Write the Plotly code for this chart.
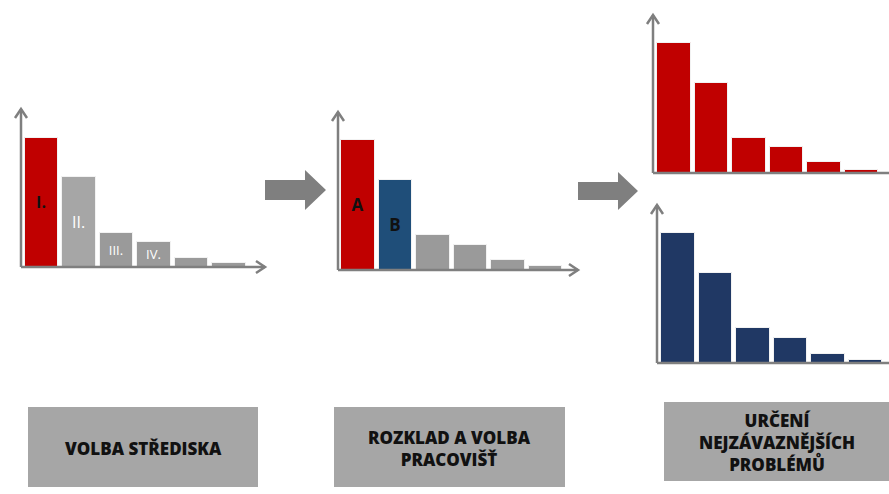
import plotly.graph_objects as go

W, H = 889, 494

# Pareto data for each step (relative magnitudes)
center_vals = [129, 90, 34, 25, 9, 4]
workplace_vals = [130, 90, 35, 25, 10, 4]
problem_vals_a = [130, 90, 35, 26, 11, 3]
problem_vals_b = [130, 90, 35, 25, 9, 3]

center_labels = ["I.", "II.", "III.", "IV.", "", ""]
workplace_labels = ["A", "B", "", "", "", ""]
step_titles = ["VOLBA STŘEDISKA",
               "ROZKLAD A VOLBA<br>PRACOVIŠŤ",
               "URČENÍ<br>NEJZÁVAZNĚJŠÍCH<br>PROBLÉMŮ"]

RED = "#C00000"
GREY_LIGHT = "#A6A6A6"
GREY = "#9A9A9A"
BLUE = "#1F4E79"
NAVY = "#203864"
AXIS = "#7F7F7F"
INK = "#111111"

STEP = 37.5   # px between bar centres
Y_SPAN = 158  # px height of each axis

def px_x(p):
    return p / W

def px_y(p):
    return 1 - p / H

fig = go.Figure()

# panel: axis x px, baseline y px, axis end px, first bar offset px
panels = [
    dict(vals=center_vals, colors=[RED, GREY_LIGHT, GREY, GREY, GREY, GREY],
         labels=center_labels, tcolors=[INK, "white", "white", "white", "white", "white"],
         tsizes=[16, 16, 13, 13, 13, 13], tweights=[700, 400, 400, 400, 400, 400],
         ax0=21, base=267, xend=265, off=20.5),
    dict(vals=workplace_vals, colors=[RED, BLUE, GREY, GREY, GREY, GREY],
         labels=workplace_labels, tcolors=[INK] * 6,
         tsizes=[17] * 6, tweights=[700] * 6, ax0=338, base=270, xend=578, off=20),
    dict(vals=problem_vals_a, colors=[RED] * 6, labels=[""] * 6, tcolors=[INK] * 6,
         tsizes=[14] * 6, tweights=[700] * 6, ax0=653, base=173, xend=889, off=21),
    dict(vals=problem_vals_b, colors=[NAVY] * 6, labels=[""] * 6, tcolors=[INK] * 6,
         tsizes=[14] * 6, tweights=[700] * 6, ax0=657, base=363, xend=889, off=21),
]

shapes = []
layout_axes = {}
for i, p in enumerate(panels, start=1):
    xa = "x" if i == 1 else f"x{i}"
    ya = "y" if i == 1 else f"y{i}"
    idx = list(range(len(p["vals"])))
    fig.add_trace(go.Bar(
        x=idx, y=p["vals"], xaxis=xa, yaxis=ya, width=0.9,
        marker=dict(color=p["colors"], line=dict(color="#F2F2F2", width=1)),
        text=p["labels"], textposition="inside", insidetextanchor="middle",
        textangle=0, constraintext="none",
        insidetextfont=dict(color=p["tcolors"], size=p["tsizes"],
                            family="Open Sans", weight=p["tweights"]),
        hoverinfo="skip", showlegend=False,
    ))
    r0 = -p["off"] / STEP
    r1 = (p["xend"] - p["ax0"] - p["off"]) / STEP
    key_x = "xaxis" if i == 1 else f"xaxis{i}"
    key_y = "yaxis" if i == 1 else f"yaxis{i}"
    layout_axes[key_x] = dict(domain=[px_x(p["ax0"]), px_x(p["xend"])], range=[r0, r1],
                              visible=False, anchor=ya)
    layout_axes[key_y] = dict(domain=[px_y(p["base"]), px_y(p["base"] - Y_SPAN)],
                              range=[0, Y_SPAN], visible=False, anchor=xa)
    xd, yd = f"{xa} domain", f"{ya} domain"
    line = dict(color=AXIS, width=2.5)
    # axis lines
    shapes.append(dict(type="line", xref=xd, yref=yd, x0=0, x1=0, y0=0, y1=1, line=line))
    shapes.append(dict(type="line", xref=xd, yref=yd, x0=0, x1=1, y0=0, y1=0, line=line))
    # arrow chevrons
    shapes.append(dict(type="path", xref=xd, yref=yd, xsizemode="pixel", ysizemode="pixel",
                       xanchor=0, yanchor=1, path="M -6,-9 L 0,0 L 6,-9", line=line))
    if p["xend"] < W:
        shapes.append(dict(type="path", xref=xd, yref=yd, xsizemode="pixel", ysizemode="pixel",
                           xanchor=1, yanchor=0, path="M -9,6 L 0,0 L -9,-6", line=line))

# block arrows between steps
def block_arrow(x0, xh, xt, yc, half_body, half_head):
    pts = [(x0, yc - half_body), (xh, yc - half_body), (xh, yc - half_head), (xt, yc),
           (xh, yc + half_head), (xh, yc + half_body), (x0, yc + half_body)]
    path = "M " + " L ".join(f"{px_x(a):.5f},{px_y(b):.5f}" for a, b in pts) + " Z"
    return dict(type="path", xref="paper", yref="paper", path=path,
                fillcolor=AXIS, line=dict(width=0))

shapes.append(block_arrow(265, 305, 326, 190, 10, 20))
shapes.append(block_arrow(578, 618, 638, 191, 9, 19))

# step boxes with their titles
boxes = [(28, 258, 407, 487), (334, 565, 407, 487), (664, 889, 402, 481)]
annotations = []
for (x0, x1, y0, y1), title in zip(boxes, step_titles):
    shapes.append(dict(type="rect", xref="paper", yref="paper",
                       x0=px_x(x0), x1=px_x(x1), y0=px_y(y1), y1=px_y(y0),
                       fillcolor=GREY_LIGHT, line=dict(width=0), layer="below"))
    annotations.append(dict(xref="paper", yref="paper", x=px_x((x0 + x1) / 2),
                            y=px_y((y0 + y1) / 2 + 1), text=title, showarrow=False,
                            xanchor="center", yanchor="middle", align="center",
                            font=dict(family="Open Sans", size=17, color=INK, weight=800)))

fig.update_layout(
    width=W, height=H, margin=dict(l=0, r=0, t=0, b=0),
    paper_bgcolor="white", plot_bgcolor="rgba(0,0,0,0)",
    shapes=shapes, annotations=annotations, bargap=0, **layout_axes,
)

fig.write_html("out.html")
